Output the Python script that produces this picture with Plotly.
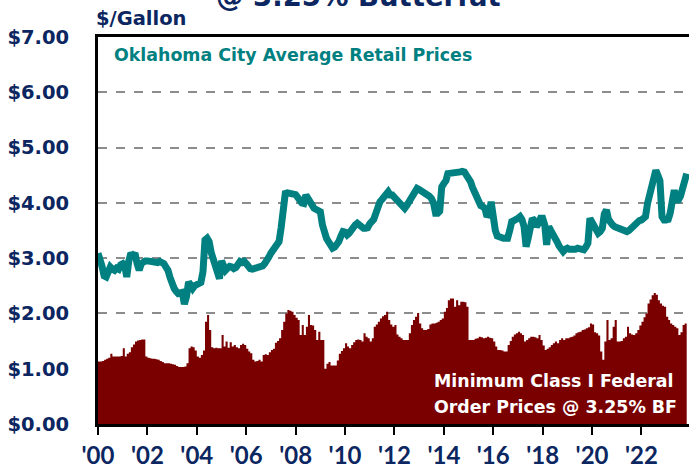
import pandas as pd
import plotly.graph_objects as go

# Oklahoma City average retail whole milk prices ($/gallon), monthly Jan 2000 - Nov 2023
RETAIL = [
    # 2000
    3.09, 3.00, 2.85, 2.68, 2.66, 2.75, 2.84, 2.80, 2.78, 2.82, 2.80, 2.88,
    # 2001
    2.90, 2.85, 2.66, 2.95, 3.09, 3.05, 3.09, 2.90, 2.78, 2.90, 2.94, 2.95,
    # 2002
    2.95, 2.94, 2.93, 2.94, 2.93, 2.92, 2.94, 2.93, 2.90, 2.84, 2.78, 2.65,
    # 2003
    2.52, 2.45, 2.40, 2.36, 2.37, 2.38, 2.17, 2.30, 2.57, 2.48, 2.45, 2.50,
    # 2004
    2.51, 2.52, 2.56, 2.75, 3.33, 3.36, 3.30, 3.10, 2.95, 2.85, 2.70, 2.63,
    # 2005
    2.95, 2.80, 2.78, 2.82, 2.85, 2.84, 2.81, 2.83, 2.88, 2.94, 2.92, 2.94,
    # 2006
    2.90, 2.84, 2.81, 2.80, 2.81, 2.80, 2.81, 2.82, 2.86, 2.90, 2.94, 3.02,
    # 2007
    3.09, 3.14, 3.18, 3.24, 3.30, 3.55, 3.90, 4.17, 4.18, 4.17, 4.16, 4.15,
    # 2008
    4.15, 4.10, 4.02, 4.00, 3.99, 4.14, 4.08, 4.00, 3.95, 3.90, 3.88, 3.86,
    # 2009
    3.84, 3.60, 3.42, 3.36, 3.30, 3.22, 3.18, 3.20, 3.24, 3.30, 3.40, 3.48,
    # 2010
    3.47, 3.42, 3.45, 3.52, 3.57, 3.60, 3.63, 3.60, 3.54, 3.54, 3.54, 3.55,
    # 2011
    3.62, 3.65, 3.70, 3.81, 3.95, 4.02, 4.06, 4.11, 4.18, 4.20, 4.14, 4.14,
    # 2012
    4.10, 4.06, 4.00, 3.95, 3.92, 3.90, 3.95, 4.02, 4.10, 4.18, 4.24, 4.26,
    # 2013
    4.24, 4.22, 4.20, 4.17, 4.14, 4.12, 4.08, 4.00, 3.81, 3.81, 3.85, 4.29,
    # 2014
    4.35, 4.40, 4.53, 4.53, 4.54, 4.55, 4.53, 4.55, 4.56, 4.57, 4.56, 4.50,
    # 2015
    4.45, 4.38, 4.28, 4.20, 4.10, 3.99, 3.95, 3.93, 3.90, 3.75, 3.80, 4.02,
    # 2016
    3.63, 3.50, 3.40, 3.38, 3.37, 3.36, 3.36, 3.36, 3.50, 3.66, 3.68, 3.69,
    # 2017
    3.72, 3.75, 3.70, 3.57, 3.21, 3.36, 3.50, 3.72, 3.68, 3.57, 3.63, 3.72,
    # 2018
    3.72, 3.60, 3.24, 3.57, 3.50, 3.45, 3.38, 3.30, 3.22, 3.14, 3.12, 3.16,
    # 2019
    3.18, 3.16, 3.15, 3.15, 3.16, 3.18, 3.17, 3.16, 3.15, 3.20, 3.27, 3.72,
    # 2020
    3.66, 3.55, 3.51, 3.45, 3.48, 3.54, 3.80, 3.87, 3.70, 3.63, 3.60, 3.57,
    # 2021
    3.55, 3.53, 3.51, 3.50, 3.49, 3.48, 3.50, 3.54, 3.58, 3.62, 3.66, 3.68,
    # 2022
    3.69, 3.72, 3.75, 3.99, 4.15, 4.32, 4.55, 4.59, 4.50, 4.40, 3.75, 3.69,
    # 2023
    3.69, 3.70, 3.81, 4.00, 4.23, 4.05, 4.05, 4.12, 4.29, 4.45, 4.53,
]

# Minimum Class I Federal Order prices @ 3.25% BF ($/gallon), monthly Jan 2000 - Nov 2023
CLASS_I = [
    # 2000
    1.13, 1.13, 1.14, 1.16, 1.18, 1.20, 1.27, 1.22, 1.22, 1.22, 1.22, 1.23,
    # 2001
    1.37, 1.22, 1.27, 1.30, 1.39, 1.44, 1.49, 1.51, 1.52, 1.53, 1.53, 1.22,
    # 2002
    1.20, 1.19, 1.18, 1.18, 1.17, 1.16, 1.14, 1.12, 1.10, 1.10, 1.10, 1.09,
    # 2003
    1.08, 1.07, 1.05, 1.03, 1.03, 1.03, 1.04, 1.10, 1.37, 1.40, 1.39, 1.33,
    # 2004
    1.22, 1.20, 1.25, 1.33, 1.85, 1.97, 1.70, 1.39, 1.37, 1.38, 1.37, 1.37,
    # 2005
    1.61, 1.40, 1.49, 1.38, 1.48, 1.40, 1.43, 1.39, 1.37, 1.43, 1.45, 1.43,
    # 2006
    1.36, 1.31, 1.28, 1.16, 1.13, 1.14, 1.16, 1.13, 1.25, 1.26, 1.25, 1.30,
    # 2007
    1.34, 1.36, 1.47, 1.50, 1.55, 1.70, 1.85, 2.00, 2.06, 2.05, 2.03, 1.97,
    # 2008
    1.92, 1.88, 1.61, 1.79, 1.61, 1.76, 1.97, 1.79, 1.78, 1.70, 1.52, 1.67,
    # 2009
    1.52, 1.52, 1.00, 1.09, 1.12, 1.06, 1.06, 1.06, 1.15, 1.27, 1.32, 1.37,
    # 2010
    1.46, 1.40, 1.37, 1.43, 1.48, 1.52, 1.53, 1.52, 1.49, 1.64, 1.58, 1.55,
    # 2011
    1.49, 1.55, 1.76, 1.80, 1.85, 1.91, 1.95, 1.97, 2.03, 1.88, 1.80, 1.76,
    # 2012
    1.79, 1.62, 1.58, 1.55, 1.52, 1.52, 1.52, 1.64, 1.79, 1.88, 1.94, 2.01,
    # 2013
    1.82, 1.73, 1.70, 1.70, 1.72, 1.80, 1.82, 1.82, 1.83, 1.85, 1.88, 1.91,
    # 2014
    2.03, 2.10, 2.24, 2.27, 2.27, 2.12, 2.24, 2.15, 2.21, 2.21, 2.20, 2.12,
    # 2015
    1.52, 1.52, 1.52, 1.54, 1.55, 1.58, 1.57, 1.55, 1.56, 1.58, 1.56, 1.55,
    # 2016
    1.49, 1.40, 1.34, 1.34, 1.33, 1.31, 1.31, 1.43, 1.50, 1.58, 1.62, 1.64,
    # 2017
    1.67, 1.64, 1.61, 1.49, 1.52, 1.55, 1.58, 1.58, 1.57, 1.55, 1.61, 1.52,
    # 2018
    1.42, 1.34, 1.36, 1.39, 1.43, 1.46, 1.49, 1.46, 1.52, 1.55, 1.52, 1.55,
    # 2019
    1.55, 1.57, 1.58, 1.60, 1.64, 1.66, 1.67, 1.70, 1.71, 1.73, 1.75, 1.82,
    # 2020
    1.80, 1.66, 1.64, 1.60, 1.31, 1.16, 1.49, 1.88, 1.52, 1.55, 1.76, 1.88,
    # 2021
    1.49, 1.49, 1.50, 1.55, 1.58, 1.76, 1.64, 1.62, 1.61, 1.64, 1.70, 1.78,
    # 2022
    1.85, 1.93, 2.00, 2.18, 2.25, 2.33, 2.37, 2.34, 2.24, 2.18, 2.14, 2.12,
    # 2023
    1.94, 1.88, 1.82, 1.79, 1.76, 1.73, 1.61, 1.66, 1.79, 1.82, 1.82,
]

START_MONTH = "2000-01-01"
TICK_YEARS = list(range(2000, 2024, 2))
TICK_LABELS = ["'00", "'02", "'04", "'06", "'08", "'10", "'12", "'14", "'16", "'18", "'20", "'22"]
Y_TICKS = [0, 1, 2, 3, 4, 5, 6, 7]
Y_TICK_LABELS = ["$0.00", "$1.00", "$2.00", "$3.00", "$4.00", "$5.00", "$6.00", "$7.00"]

dates = pd.date_range(START_MONTH, periods=len(RETAIL), freq="MS")
dates_c = pd.date_range(START_MONTH, periods=len(CLASS_I), freq="MS")

NAVY = "#0b2660"
TEAL = "#008080"
MAROON = "#7a0000"
WIDE = "DejaVu Sans"
NARROW = "Lato"

W, H = 689, 470
L, T, B, R = 98, 37, 46, 0
PW, PH = W - L - R, H - T - B


def px_x(x):
    return (x - L) / PW


def px_y(y):
    return (H - B - y) / PH


fig = go.Figure()
fig.add_trace(go.Scatter(
    x=dates_c, y=CLASS_I, mode="lines", line=dict(width=0, shape="hv", color=MAROON),
    fill="tozeroy", fillcolor=MAROON, hoverinfo="skip", showlegend=False,
))
fig.add_trace(go.Scatter(
    x=dates, y=RETAIL, mode="lines", line=dict(width=7, color=TEAL),
    showlegend=False,
))

fig.update_layout(
    width=W, height=H,
    margin=dict(l=L, r=R, t=T, b=B, autoexpand=False),
    paper_bgcolor="white", plot_bgcolor="white",
    font=dict(family=WIDE, color=NAVY),
)
fig.update_xaxes(
    range=["2000-01-01", "2023-12-05"],
    tickvals=[f"{y}-01-01" for y in TICK_YEARS], ticktext=TICK_LABELS,
    showline=True, linecolor="black", linewidth=3, mirror=True,
    ticks="outside", ticklen=8, tickwidth=2, tickcolor="black",
    showgrid=False, zeroline=False,
    tickfont=dict(family=NARROW, size=24, color=NAVY, weight="bold"),
)
fig.update_yaxes(
    range=[0, 7], tickvals=Y_TICKS, ticktext=Y_TICK_LABELS,
    showline=True, linecolor="black", linewidth=3,
    showgrid=True, gridcolor="#8c8c8c", griddash="dash", gridwidth=2,
    zeroline=False, ticks="", ticklabelstandoff=22,
    tickfont=dict(family=WIDE, size=19.5, color=NAVY, weight="bold"),
)

fig.add_annotation(
    text="@ 3.25% Butterfat", xref="paper", yref="paper",
    x=px_x(358), y=px_y(-4), xanchor="center", yanchor="middle",
    showarrow=False, font=dict(family=WIDE, size=27.5, color=NAVY, weight="bold"),
)
fig.add_annotation(
    text="$/Gallon", xref="paper", yref="paper",
    x=px_x(94), y=px_y(18), xanchor="left", yanchor="middle",
    showarrow=False, font=dict(family=WIDE, size=19.5, color=NAVY, weight="bold"),
)
fig.add_annotation(
    text="Oklahoma City Average Retail Prices", xref="paper", yref="paper",
    x=px_x(112), y=px_y(55), xanchor="left", yanchor="middle",
    showarrow=False, font=dict(family=WIDE, size=17.4, color=TEAL, weight="bold"),
)
fig.add_annotation(
    text="Minimum Class I Federal", xref="paper", yref="paper",
    x=px_x(432), y=px_y(381), xanchor="left", yanchor="middle",
    showarrow=False, font=dict(family=WIDE, size=17.4, color="white", weight="bold"),
)
fig.add_annotation(
    text="Order Prices @ 3.25% BF", xref="paper", yref="paper",
    x=px_x(432), y=px_y(407), xanchor="left", yanchor="middle",
    showarrow=False, font=dict(family=WIDE, size=17.4, color="white", weight="bold"),
)

fig.write_html(
    "out.html",
    config={"displayModeBar": False},
    post_script="document.body.style.margin='0';",
)
